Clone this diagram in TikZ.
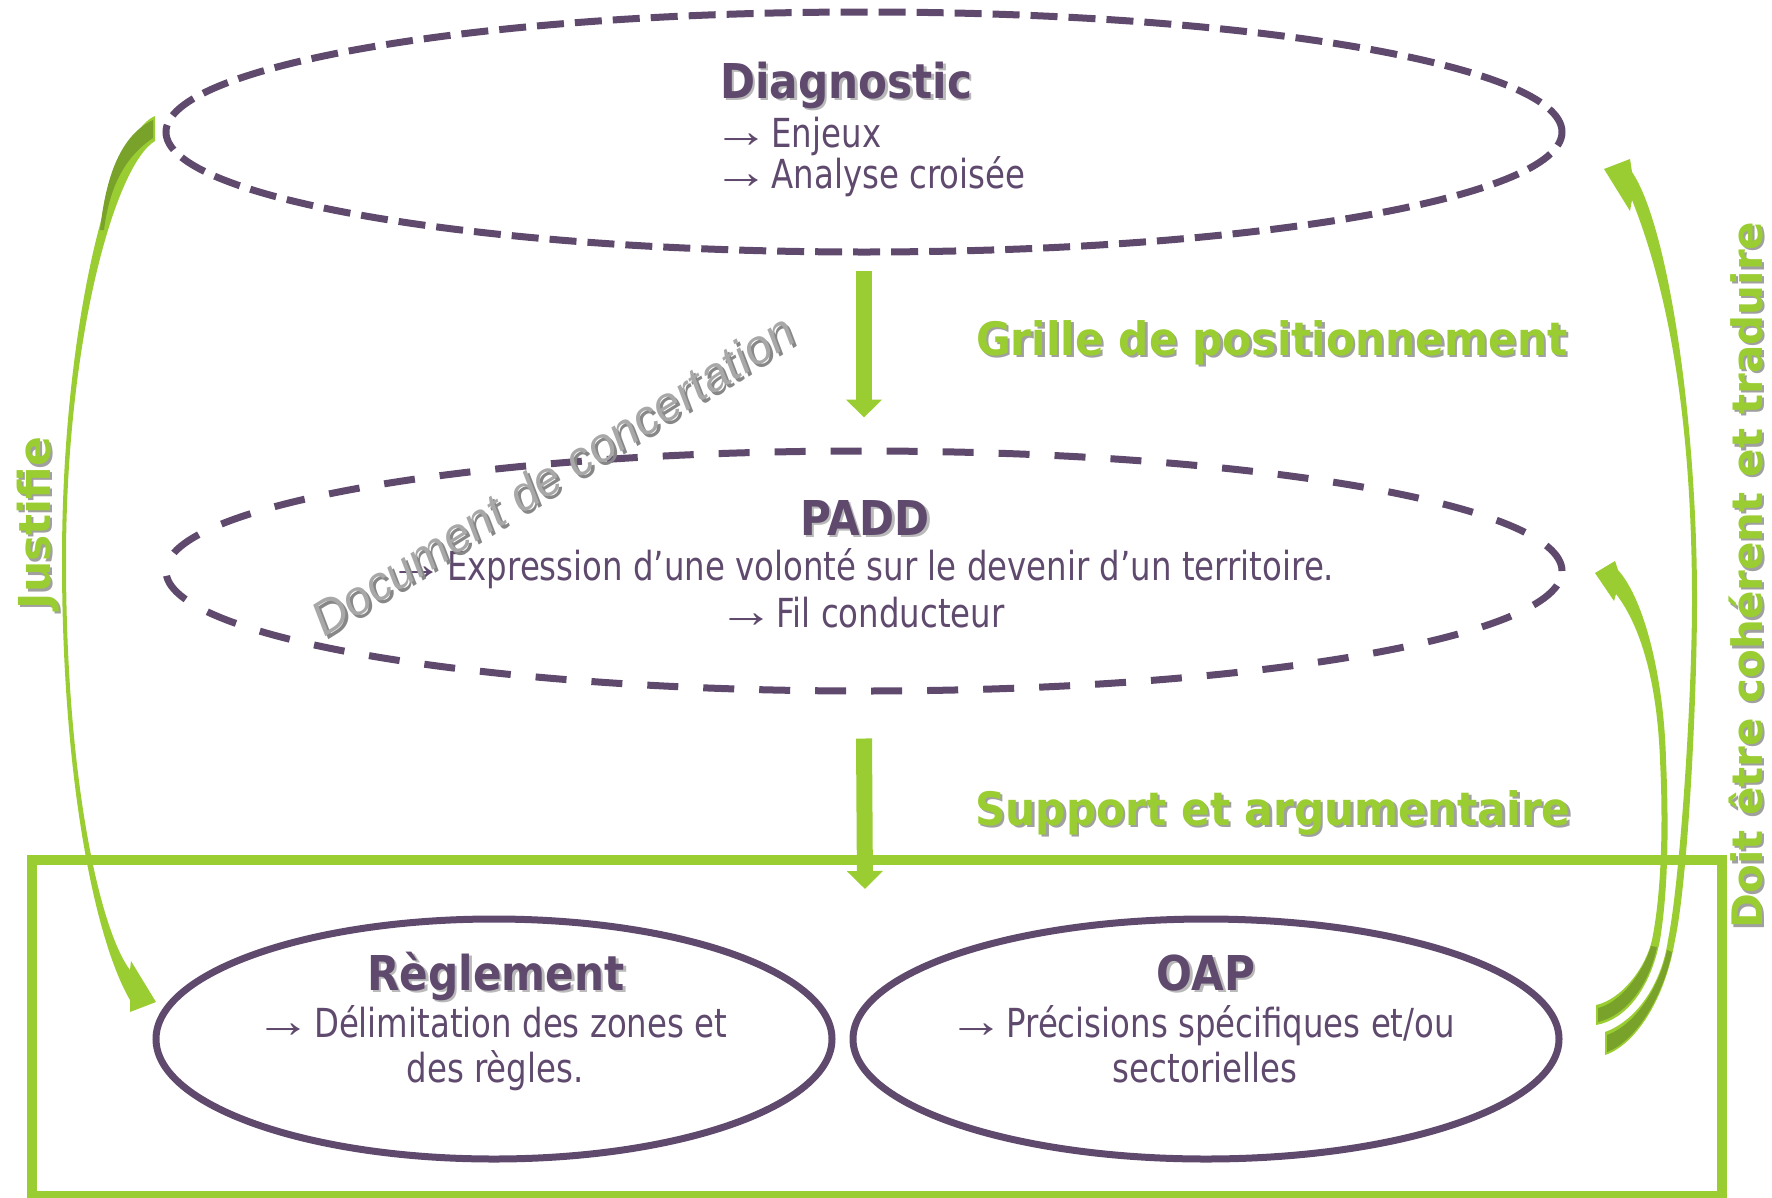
\documentclass[tikz,border=0pt]{standalone}
\usepackage{graphicx}
\usepackage{fontspec}
\setmainfont{DejaVu Sans}
\newfontfamily\bodyfont{DejaVu Sans}[FakeStretch=0.81]
\newfontfamily\titlefont{DejaVu Sans}[FakeStretch=0.88]
\newfontfamily\gfont{DejaVu Sans}[FakeStretch=0.92]
\newfontfamily\vfont{DejaVu Sans}
\newfontfamily\docfont{Liberation Sans}
\newfontfamily\arrowfont{Liberation Serif}
\newcommand\rar{\kern-7pt\scalebox{1.4}[1.2]{\arrowfont →}\kern-8pt}
\usetikzlibrary{shapes.geometric,arrows.meta}
\definecolor{purp}{RGB}{95,74,110}
\definecolor{gr}{RGB}{154,205,50}
\definecolor{grdark}{RGB}{120,162,42}
\definecolor{shad}{RGB}{185,185,185}
\definecolor{gshad}{RGB}{160,160,160}
\definecolor{docgray}{RGB}{168,168,168}
\definecolor{docshad}{RGB}{135,135,135}
\tikzset{
  dashell/.style={ellipse, draw=purp, line width=7pt, inner sep=0pt, minimum width=1396pt, minimum height=240pt},
  solidell/.style={ellipse, draw=purp, line width=7pt, inner sep=0pt, minimum height=240pt},
  body/.style={inner sep=0pt, text=purp, font=\bodyfont\fontsize{40}{44}\selectfont},
  ptitle/.style={inner sep=0pt, text=purp, font=\titlefont\bfseries\fontsize{48}{54}\selectfont},
  ptshadow/.style={ptitle, text=shad},
  glabel/.style={inner sep=0pt, text=gr, font=\gfont\bfseries\fontsize{46}{54}\selectfont},
  glshadow/.style={glabel, text=gshad},
  vlabel/.style={inner sep=0pt, text=gr, rotate=90, anchor=base, font=\vfont\bfseries},
  vlshadow/.style={vlabel, text=gshad},
  garrow/.style={draw=gr, line width=16pt, -{Triangle[length=18pt,width=35pt]}},
  gband/.style={fill=gr},
  gbanddark/.style={fill=grdark},
  doclabel/.style={inner sep=0pt, anchor=base, rotate=32, font=\docfont\itshape\fontsize{48}{56}\selectfont}
}
\begin{document}
\begin{tikzpicture}[x=1pt,y=-1pt]
\useasboundingbox (0,0) rectangle (1772,1197);

% green frame
\draw[gr, line width=10pt] (31.5,860) rectangle (1722,1196);

% ellipses
\node[dashell, dash pattern=on 27pt off 11pt] (diag) at (864,132) {};
\node[dashell, dash pattern=on 31pt off 25pt] (padd) at (864,571) {};
\node[solidell, minimum width=676pt] (regl) at (494,1039) {};
\node[solidell, minimum width=706pt] (oap) at (1206,1039) {};

% straight arrows
\coordinate (t2) at (865,889);
\draw[garrow] ([yshift=-15pt]diag.south) -- ([yshift=30pt]padd.north);
\draw[garrow] ([yshift=-44pt]padd.south) -- (t2);

% left curved arrow (Justifie)
\fill[gband] (155,116) .. controls (110,135) and (62,330) .. (62,560)
  .. controls (62,780) and (95,940) .. (130,1000) -- (130,1012) -- (156,1002) -- (131,961) -- (130,970)
  .. controls (100,930) and (66,780) .. (66,560)
  .. controls (66,340) and (115,165) .. (155,141) -- cycle;
\fill[gbanddark] (153,120) .. controls (117,137) and (105,185) .. (100,230) -- (104,230)
  .. controls (109,190) and (123,158) .. (153,138) -- cycle;

% right outer curved arrow (to Diagnostic)
\fill[gband] (1605,1032) .. controls (1638,1020) and (1662,982) .. (1668,940)
  .. controls (1680,880) and (1692,700) .. (1692,600)
  .. controls (1692,420) and (1668,290) .. (1632,200) -- (1630,211) -- (1604,169) -- (1630,159) -- (1632,172)
  .. controls (1668,225) and (1697,420) .. (1697,600)
  .. controls (1697,700) and (1688,880) .. (1675,940)
  .. controls (1665,1000) and (1635,1045) .. (1605,1055) -- cycle;
\fill[gbanddark] (1607,1035) .. controls (1637,1024) and (1660,985) .. (1667,950) -- (1672,952)
  .. controls (1662,1000) and (1634,1042) .. (1607,1052) -- cycle;

% right inner curved arrow (to PADD)
\fill[gband] (1596,1005) .. controls (1620,1000) and (1645,970) .. (1652,940)
  .. controls (1662,890) and (1663,820) .. (1660,760)
  .. controls (1657,680) and (1640,625) .. (1616,594) -- (1614,601) -- (1595,573) -- (1615,561) -- (1618,570)
  .. controls (1645,600) and (1664,680) .. (1666,760)
  .. controls (1669,830) and (1668,890) .. (1660,940)
  .. controls (1650,990) and (1625,1020) .. (1596,1025) -- cycle;
\fill[gbanddark] (1598,1008) .. controls (1620,1003) and (1643,973) .. (1651,946) -- (1657,947)
  .. controls (1648,988) and (1624,1016) .. (1598,1022) -- cycle;

% Diagnostic text
\node[ptshadow, anchor=base west] at (722.5,100.5) {Diagnostic};
\node[ptitle, anchor=base west] (dtitle) at (720,98) {Diagnostic};
\node[body, anchor=base west] (d1) at (720,147) {\rar{} Enjeux};
\node[body, anchor=base west] (d2) at (720,188) {\rar{} Analyse croisée};

% PADD text
\node[ptshadow, anchor=base] at (867.5,537.5) {PADD};
\node[ptitle, anchor=base] (ptitle) at (865,535) {PADD};
\node[body, anchor=base] (p1) at (865,580) {\rar{} Expression d’une volonté sur le devenir d’un territoire.};
\node[body, anchor=base] (p2) at (865,627) {\rar{} Fil conducteur};

% Reglement text
\node[ptshadow, anchor=base] at (498.5,992.5) {Règlement};
\node[ptitle, anchor=base] (rtitle) at (496,990) {Règlement};
\node[body, anchor=base] (r1) at (495,1037) {\rar{} Délimitation des zones et};
\node[body, anchor=base] (r2) at (495,1082) {des règles.};

% OAP text
\node[ptshadow, anchor=base] at (1208.5,992.5) {OAP};
\node[ptitle, anchor=base] (otitle) at (1206,990) {OAP};
\node[body, anchor=base] (o1) at (1205,1037) {\rar{} Précisions spécifiques et/ou};
\node[body, anchor=base] (o2) at (1205,1082) {sectorielles};

% green labels
\node[glshadow, anchor=base west] at (978.5,357.5) {Grille de positionnement};
\node[glabel, anchor=base west] (grille) at (976,355) {Grille de positionnement};
\node[glshadow, anchor=base west] at (977.5,827.5) {Support et argumentaire};
\node[glabel, anchor=base west] (support) at (975,825) {Support et argumentaire};

% vertical labels
\node[vlshadow, font=\vfont\bfseries\fontsize{44}{50}\selectfont] at (52.5,525.5) {Justifie};
\node[vlabel, font=\vfont\bfseries\fontsize{44}{50}\selectfont] (just) at (50,523) {Justifie};
\node[vlshadow, font=\vfont\bfseries\fontsize{42}{50}\selectfont] at (1764.5,577.5) {Doit être cohérent et traduire};
\node[vlabel, font=\vfont\bfseries\fontsize{42}{50}\selectfont] (doit) at (1762,575) {Doit être cohérent et traduire};

% Document de concertation
\node[doclabel, text=docshad] at (565,492) {Document de concertation};
\node[doclabel, text=docgray] (doc) at (562,489) {Document de concertation};
\end{tikzpicture}
\end{document}
